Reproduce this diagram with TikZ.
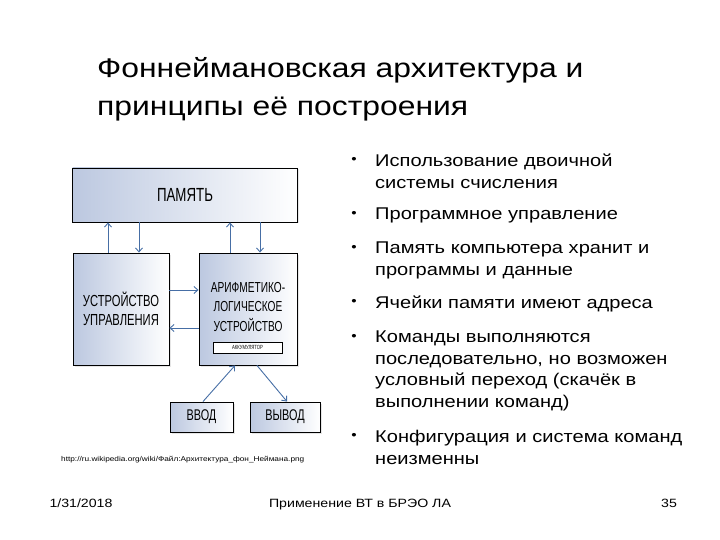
\documentclass[tikz,border=0pt]{standalone}
\usepackage{fontspec}
\setmainfont{Liberation Sans}[FakeStretch=1.18]
\newfontfamily\narrowfont[FakeStretch=0.7]{Liberation Sans}
\usetikzlibrary{positioning,calc,arrows.meta,shadows}
\definecolor{arrblue}{RGB}{70,110,165}
\definecolor{boxblue}{RGB}{188,200,224}
\tikzset{
  unit/.style={draw=black, line width=0.9pt, left color=boxblue, right color=white,
    drop shadow={opacity=0.2, shadow xshift=1.5pt, shadow yshift=-1.5pt},
    font=\narrowfont\fontsize{16}{19}\selectfont, align=center, inner sep=0pt},
  link/.style={draw=arrblue, line width=0.9pt, -{Straight Barb[length=4pt,width=7pt]}},
  point/.style={anchor=north west, align=left, inner sep=0pt, text width=330pt,
    font=\fontsize{17}{21.5}\selectfont},
  dot/.style={inner sep=0pt, font=\fontsize{13}{13}\selectfont},
  foot/.style={anchor=base, inner sep=0pt, font=\fontsize{12}{14}\selectfont}
}
\begin{document}
\begin{tikzpicture}[x=1pt, y=-1pt]
    \useasboundingbox (0,0) rectangle (720,540);
    % Title
    \node[anchor=north west, align=left, inner sep=0pt, font=\fontsize{27}{38}\selectfont] (title) at (97,57)
        {Фоннеймановская архитектура и\\принципы её построения};

    % Diagram
    \node[unit, minimum width=225pt, minimum height=54pt, font=\narrowfont\fontsize{19}{22}\selectfont] (mem) at (185,195) {ПАМЯТЬ};
    \node[unit, minimum width=96pt, minimum height=112pt] (cu) at (121,309) {УСТРОЙСТВО\\УПРАВЛЕНИЯ};
    \node[unit, minimum width=98pt, minimum height=112pt] (alu) at (248,309) {};
    \node[align=center, inner sep=0pt, font=\narrowfont\fontsize{14.5}{19.5}\selectfont] (alutext) at (248,307)
        {АРИФМЕТИКО-\\ЛОГИЧЕСКОЕ\\УСТРОЙСТВО};
    \node[draw=black, line width=0.7pt, fill=white, minimum width=69pt, minimum height=11pt, inner sep=0pt,
        font=\narrowfont\fontsize{6}{6}\selectfont] (acc) at (247.5,347.5) {АККУМУЛЯТОР};
    \node[unit, minimum width=63pt, minimum height=30pt, font=\narrowfont\fontsize{15.5}{18}\selectfont] (in) at (201.5,417) {ВВОД};
    \node[unit, minimum width=70pt, minimum height=30pt, font=\narrowfont\fontsize{15.5}{18}\selectfont] (out) at (285,417) {ВЫВОД};

    \draw[link] ([xshift=-13pt]cu.north) -- ([xshift=-13pt]cu.north |- mem.south);
    \draw[link] ([xshift=18pt]cu.north |- mem.south) -- ([xshift=18pt]cu.north);
    \draw[link] ([xshift=-18pt]alu.north) -- ([xshift=-18pt]alu.north |- mem.south);
    \draw[link] ([xshift=12pt]alu.north |- mem.south) -- ([xshift=12pt]alu.north);
    \draw[link] ([yshift=19pt]cu.east) -- ([yshift=19pt]alu.west);
    \draw[link] ([yshift=-19pt]alu.west) -- ([yshift=-19pt]cu.east);
    \draw[link] ([xshift=1.5pt]in.north) -- ([xshift=-13pt]alu.south);
    \draw[link] ([xshift=9pt]alu.south) -- ([xshift=2pt]out.north);

    \node[anchor=west, inner sep=0pt, font=\fontsize{7}{8}\selectfont] (src) at (61,460)
        {http://ru.wikipedia.org/wiki/Файл:Архитектура\_фон\_Неймана.png};

    % Principles
    \foreach \y/\txt [count=\i] in {
        154/{Использование двоичной\\системы счисления},
        208/{Программное управление},
        242/{Память компьютера хранит и\\программы и данные},
        296/{Ячейки памяти имеют адреса},
        331/{Команды выполняются\\последовательно, но возможен\\условный переход (скачёк в\\выполнении команд)},
        430/{Конфигурация и система команд\\неизменны}}
    {
        \node[point] (p\i) at (375,\y) {\txt};
        \node[dot] (d\i) at ([xshift=-21pt,yshift=-6pt]p\i.north west) {•};
    }

    % Footer
    \node[foot] (date) at (81,507.5) {1/31/2018};
    \node[foot] (talk) at (360,507.5) {Применение ВТ в БРЭО ЛА};
    \node[foot] (num) at (669,507.5) {35};
\end{tikzpicture}
\end{document}
